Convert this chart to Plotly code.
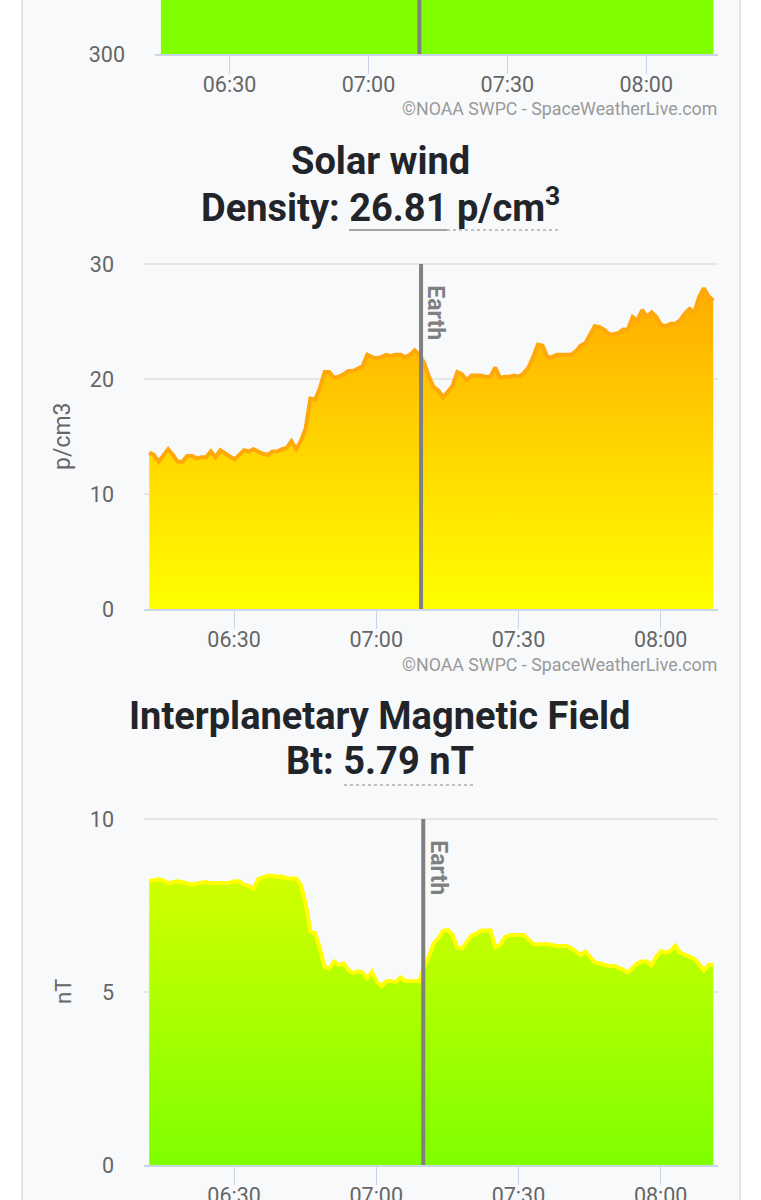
import pandas as pd
import plotly.graph_objects as go

W, H = 761, 1200
DAY = "2024-05-10 "

# valores, un punto por minuto
density = [
    13.6, 13.4, 12.8, 13.4, 13.9, 13.4, 12.8, 12.8, 13.3, 13.3, 13.1, 13.2, 13.2, 13.7, 13.2,
    13.8, 13.5, 13.3, 13.0, 13.4, 13.8, 13.7, 13.9, 13.7, 13.5, 13.4, 13.7, 13.7, 13.9, 14.0,
    14.6, 13.9, 14.6, 15.7, 18.3, 18.2, 19.2, 20.6, 20.6, 20.1, 20.2, 20.4, 20.7, 20.7, 20.9,
    21.1, 22.1, 21.9, 21.8, 21.9, 22.1, 22.0, 22.1, 22.1, 21.9, 22.1, 22.5, 22.1, 21.4, 20.2,
    19.3, 19.0, 18.4, 18.9, 19.4, 20.6, 20.4, 19.9, 20.3, 20.3, 20.3, 20.2, 20.2, 21.0, 20.1,
    20.2, 20.2, 20.3, 20.2, 20.5, 21.0, 21.9, 23.0, 22.9, 21.9, 21.9, 22.1, 22.1, 22.1, 22.1,
    22.4, 22.9, 23.1, 23.8, 24.6, 24.5, 24.3, 23.9, 23.9, 24.0, 24.3, 24.3, 25.4, 25.1, 26.0,
    25.4, 25.8, 25.4, 24.7, 24.6, 24.8, 24.8, 25.1, 25.7, 26.1, 25.8, 27.1, 27.9, 27.2, 26.81,
]
bt = [
    8.21, 8.25, 8.26, 8.23, 8.14, 8.18, 8.20, 8.17, 8.14, 8.10, 8.14, 8.16, 8.18, 8.14, 8.14,
    8.15, 8.16, 8.16, 8.20, 8.20, 8.10, 8.07, 7.98, 8.26, 8.31, 8.36, 8.36, 8.33, 8.34, 8.29,
    8.28, 8.28, 8.09, 7.56, 6.74, 6.70, 6.26, 5.73, 5.68, 5.88, 5.78, 5.83, 5.64, 5.54, 5.60,
    5.57, 5.39, 5.58, 5.30, 5.17, 5.31, 5.32, 5.28, 5.42, 5.32, 5.31, 5.30, 5.31, 5.73, 6.02,
    6.41, 6.55, 6.77, 6.79, 6.65, 6.28, 6.26, 6.45, 6.63, 6.68, 6.77, 6.78, 6.78, 6.29, 6.36,
    6.58, 6.64, 6.65, 6.65, 6.65, 6.52, 6.39, 6.38, 6.39, 6.39, 6.36, 6.33, 6.33, 6.33, 6.27,
    6.18, 6.07, 6.17, 6.00, 5.85, 5.83, 5.80, 5.75, 5.76, 5.71, 5.64, 5.56, 5.68, 5.83, 5.88,
    5.89, 5.76, 6.02, 6.18, 6.14, 6.19, 6.34, 6.14, 6.07, 6.02, 5.96, 5.81, 5.62, 5.78, 5.79,
]
# del grafico de arriba solo se ve el pie, el valor real queda fuera del recorte
speed_times = [DAY + "06:15:10", DAY + "08:14:30"]
speed = [420, 420]

times = pd.date_range(DAY + "06:12:06", periods=len(density), freq="min")

tick_vals = [DAY + t for t in ["06:30", "07:00", "07:30", "08:00"]]
tick_text = ["06:30", "07:00", "07:30", "08:00"]

FONT = "Roboto, Arial, sans-serif"
GREEN = "#7fff00"
GRID = "#e6e6e6"
AXIS = "#ccd6eb"
LABEL = "#666666"
DARK = "#212529"


def px_x(v):
    return v / W


def px_y(v):
    return 1 - v / H


def x_axis(rng, left, anchor):
    return dict(
        domain=[px_x(left), px_x(718)], range=[DAY + rng[0], DAY + rng[1]], type="date",
        tickvals=tick_vals, ticktext=tick_text, anchor=anchor, automargin=False,
        showgrid=False, zeroline=False, showline=True, linecolor=AXIS, linewidth=2,
        ticks="outside", ticklen=18, tickcolor=AXIS, tickwidth=1, ticklabelstandoff=-8,
        tickfont=dict(size=21.5, color=LABEL, family=FONT),
    )


def y_axis(top, bottom, rng, vals, anchor):
    return dict(
        domain=[px_y(bottom), px_y(top)], range=rng, tickvals=vals, anchor=anchor, automargin=False,
        showgrid=True, gridcolor=GRID, gridwidth=1.5, zeroline=False, showline=False,
        ticks="", ticklabelstandoff=29,
        tickfont=dict(size=21.5, color=LABEL, family=FONT),
    )


fig = go.Figure()
fig.add_scatter(x=speed_times, y=speed, mode="lines", line=dict(color=GREEN, width=1),
                fill="tozeroy", fillcolor=GREEN, xaxis="x", yaxis="y", hoverinfo="skip")
fig.add_scatter(x=times, y=density, mode="lines", line=dict(color="#ffa80a", width=4),
                fill="tozeroy",
                fillgradient=dict(type="vertical", start=0, stop=30,
                                  colorscale=[[0, "#ffff00"], [1, "#ffa500"]]),
                xaxis="x2", yaxis="y2")
fig.add_scatter(x=times, y=bt, mode="lines", line=dict(color="#ffff00", width=4),
                fill="tozeroy",
                fillgradient=dict(type="vertical", start=0, stop=13,
                                  colorscale=[[0, GREEN], [1, "#ffff00"]]),
                xaxis="x3", yaxis="y3")

# panel de fondo
fig.add_shape(type="rect", xref="paper", yref="paper", x0=px_x(22), x1=px_x(740), y0=0, y1=1,
              fillcolor="#f8f9fb", line=dict(width=0), layer="below")
for edge in [22, 740]:
    fig.add_shape(type="line", xref="paper", yref="paper", x0=px_x(edge), x1=px_x(edge), y0=0, y1=1,
                  line=dict(color="#d9dde3", width=1.5), layer="below")

# marcas de Earth
earth = [("x", "y", DAY + "07:11:00", 300, 420, None),
         ("x2", "y2", DAY + "07:09:27", 0, 30, 25.8),
         ("x3", "y3", DAY + "07:09:55", 0, 10, 8.6)]
annotations = []
for xr, yr, when, lo, hi, label_y in earth:
    fig.add_shape(type="line", xref=xr, yref=yr, x0=when, x1=when, y0=lo, y1=hi,
                  line=dict(color="#808080", width=4))
    if label_y is not None:
        annotations.append(dict(x=when, y=label_y, xref=xr, yref=yr, text="<b>Earth</b>", textangle=90,
                                showarrow=False, xshift=15,
                                font=dict(size=23, color="#808080", family=FONT)))


def note(x, y, text, size, color=DARK, xanchor="center", angle=0):
    annotations.append(dict(x=px_x(x), y=px_y(y), xref="paper", yref="paper", text=text, showarrow=False,
                            xanchor=xanchor, yanchor="middle", textangle=angle,
                            font=dict(size=size, color=color, family=FONT)))


note(380, 161, "<b>Solar wind</b>", 38)
note(380, 205, "<b>Density: 26.81 p/cm<sup>3</sup></b>", 38)
note(380, 716, "<b>Interplanetary Magnetic Field</b>", 38)
note(380, 761, "<b>Bt: 5.79 nT</b>", 38)
note(719, 109, "©NOAA SWPC - SpaceWeatherLive.com", 17.8, "#999999", "right")
note(719, 664, "©NOAA SWPC - SpaceWeatherLive.com", 17.8, "#999999", "right")
note(63, 436, "p/cm3", 23, LABEL, angle=-90)
note(63, 992, "nT", 22, LABEL, angle=-90)

# subrayados del valor
for x0, x1, y, dash, color in [(349, 447, 230, "solid", "#888888"), (447, 561, 230, "dot", "#888888"),
                               (344, 474, 785, "dot", "#888888")]:
    fig.add_shape(type="line", xref="paper", yref="paper", x0=px_x(x0), x1=px_x(x1), y0=px_y(y), y1=px_y(y),
                  line=dict(color=color, width=1.5 if dash == "solid" else 1, dash=dash))

# 2 px de mas arriba: plotly quita la linea de rejilla pegada al borde del rango
fig.update_layout(
    width=W, height=H, margin=dict(l=0, r=0, t=0, b=0), showlegend=False,
    paper_bgcolor="white", plot_bgcolor="rgba(0,0,0,0)", font=dict(family=FONT),
    xaxis=x_axis(("06:13:54", "08:15:30"), 155, "y"),
    yaxis=y_axis(0, 54, [300, 350], [300], "x"),
    xaxis2=x_axis(("06:11:00", "08:12:06"), 144, "y2"),
    yaxis2=y_axis(262, 609, [0, 30.174], [0, 10, 20, 30], "x2"),
    xaxis3=x_axis(("06:11:00", "08:12:06"), 144, "y3"),
    yaxis3=y_axis(817, 1165, [0, 10.058], [0, 5, 10], "x3"),
    annotations=annotations,
)

fig.write_html("out.html", config=dict(displayModeBar=False),
               post_script="document.body.style.margin='0';document.body.style.overflow='hidden';")
